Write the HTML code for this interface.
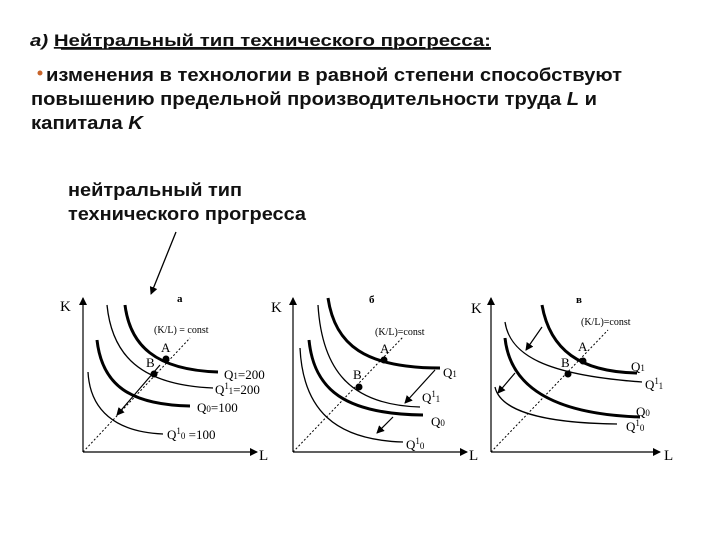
<!DOCTYPE html>
<html><head><meta charset="utf-8"><style>
html,body{margin:0;padding:0;background:#fff;}
svg{display:block;font-family:"Liberation Sans",sans-serif;}
.s{font-family:"Liberation Serif",serif;}
</style></head><body>
<svg width="720" height="540" viewBox="0 0 720 540" xmlns="http://www.w3.org/2000/svg">
<defs>
<marker id="ar" markerWidth="8" markerHeight="8" refX="7" refY="4" orient="auto" markerUnits="userSpaceOnUse"><path d="M0,0 L8,4 L0,8 Z" fill="#000"/></marker>
</defs>
<g font-weight="bold" font-size="17" fill="#111">
<text x="30" y="46" textLength="461" lengthAdjust="spacingAndGlyphs"><tspan font-style="italic">а)</tspan>  <tspan text-decoration="underline">Нейтральный тип технического прогресса:</tspan></text>
<line x1="61" y1="49" x2="491" y2="49" stroke="#111" stroke-width="1.5"/>
<circle cx="40" cy="73" r="2.5" fill="#c8642a"/>
<text x="46" y="81" font-size="18" textLength="576" lengthAdjust="spacingAndGlyphs">изменения в технологии в равной степени способствуют</text>
<text x="31" y="105" font-size="18" textLength="566" lengthAdjust="spacingAndGlyphs">повышению предельной производительности труда <tspan font-style="italic">L</tspan> и</text>
<text x="31" y="129" font-size="18" textLength="112" lengthAdjust="spacingAndGlyphs">капитала <tspan font-style="italic">K</tspan></text>
<text x="68" y="196" font-size="18" textLength="174" lengthAdjust="spacingAndGlyphs">нейтральный тип</text>
<text x="68" y="220" font-size="18" textLength="238" lengthAdjust="spacingAndGlyphs">технического прогресса</text>
</g>
<line x1="176" y1="232" x2="151" y2="294" stroke="#000" stroke-width="1.3" marker-end="url(#ar)"/>

<g fill="none" stroke="#000">
<!-- Panel a -->
<line x1="83" y1="452" x2="83" y2="298" stroke-width="1.2" marker-end="url(#ar)"/>
<line x1="83" y1="452" x2="257" y2="452" stroke-width="1.2" marker-end="url(#ar)"/>
<line x1="83" y1="452" x2="190" y2="338" stroke-dasharray="2,2"/>
<path d="M125,305 C130,345 155,370 218,372" stroke-width="3"/>
<path d="M107,305 C112,355 140,385 213,388" stroke-width="1.3"/>
<path d="M97,340 C102,385 130,405 190,406" stroke-width="3"/>
<path d="M88,372 C90,410 115,432 163,434" stroke-width="1.3"/>
<line x1="160" y1="365" x2="117" y2="415" stroke-width="1.2" marker-end="url(#ar)"/>
<!-- Panel b -->
<line x1="293" y1="452" x2="293" y2="298" stroke-width="1.2" marker-end="url(#ar)"/>
<line x1="293" y1="452" x2="467" y2="452" stroke-width="1.2" marker-end="url(#ar)"/>
<line x1="293" y1="452" x2="403" y2="337" stroke-dasharray="2,2"/>
<path d="M328,298 C335,345 365,368 440,368" stroke-width="3"/>
<path d="M318,305 C322,370 350,405 420,407" stroke-width="1.3"/>
<path d="M309,340 C314,390 345,414 423,415" stroke-width="3"/>
<path d="M300,348 C303,410 335,440 403,442" stroke-width="1.3"/>
<line x1="435" y1="370" x2="405" y2="403" stroke-width="1.2" marker-end="url(#ar)"/>
<line x1="393" y1="417" x2="377" y2="433" stroke-width="1.2" marker-end="url(#ar)"/>
<!-- Panel c -->
<line x1="491" y1="452" x2="491" y2="298" stroke-width="1.2" marker-end="url(#ar)"/>
<line x1="491" y1="452" x2="660" y2="452" stroke-width="1.2" marker-end="url(#ar)"/>
<line x1="491" y1="452" x2="608" y2="330" stroke-dasharray="2,2"/>
<path d="M542,305 C550,350 580,372 637,373" stroke-width="3"/>
<path d="M505,322 C510,355 545,375 642,382" stroke-width="1.3"/>
<path d="M505,338 C510,385 550,414 640,417" stroke-width="3"/>
<path d="M495,387 C500,410 540,423 617,424" stroke-width="1.3"/>
<line x1="542" y1="327" x2="526" y2="350" stroke-width="1.2" marker-end="url(#ar)"/>
<line x1="515" y1="373" x2="498" y2="393" stroke-width="1.2" marker-end="url(#ar)"/>
</g>
<g fill="#000">
<circle cx="166" cy="359" r="3.5"/><circle cx="154" cy="374" r="3.5"/>
<circle cx="384" cy="360" r="3.5"/><circle cx="359" cy="387" r="3.5"/>
<circle cx="583" cy="361" r="3.5"/><circle cx="568" cy="374" r="3.5"/>
</g>
<g class="s" font-size="13" fill="#000">
<text x="60" y="311" font-size="15">K</text>
<text x="259" y="460" font-size="15">L</text>
<text x="177" y="302" font-size="11" font-weight="bold">а</text>
<text x="154" y="333" font-size="10">(K/L) = const</text>
<text x="161" y="352">A</text>
<text x="146" y="367">B</text>
<text x="224" y="379">Q<tspan font-size="9">1</tspan>=200</text>
<text x="215" y="394">Q<tspan font-size="9" dy="-5">1</tspan><tspan font-size="9" dy="5">1</tspan>=200</text>
<text x="197" y="412">Q<tspan font-size="9">0</tspan>=100</text>
<text x="167" y="439">Q<tspan font-size="9" dy="-5">1</tspan><tspan font-size="9" dy="5">0</tspan> =100</text>

<text x="271" y="312" font-size="15">K</text>
<text x="469" y="460" font-size="15">L</text>
<text x="369" y="303" font-size="11" font-weight="bold">б</text>
<text x="375" y="335" font-size="10">(K/L)=const</text>
<text x="380" y="353">A</text>
<text x="353" y="379">B</text>
<text x="443" y="377">Q<tspan font-size="9">1</tspan></text>
<text x="422" y="402">Q<tspan font-size="9" dy="-5">1</tspan><tspan font-size="9" dy="5">1</tspan></text>
<text x="431" y="426">Q<tspan font-size="9">0</tspan></text>
<text x="406" y="449">Q<tspan font-size="9" dy="-5">1</tspan><tspan font-size="9" dy="5">0</tspan></text>

<text x="471" y="313" font-size="15">K</text>
<text x="664" y="460" font-size="15">L</text>
<text x="576" y="303" font-size="11" font-weight="bold">в</text>
<text x="581" y="325" font-size="10">(K/L)=const</text>
<text x="578" y="351">A</text>
<text x="561" y="367">B</text>
<text x="631" y="371">Q<tspan font-size="9">1</tspan></text>
<text x="645" y="389">Q<tspan font-size="9" dy="-5">1</tspan><tspan font-size="9" dy="5">1</tspan></text>
<text x="636" y="416">Q<tspan font-size="9">0</tspan></text>
<text x="626" y="431">Q<tspan font-size="9" dy="-5">1</tspan><tspan font-size="9" dy="5">0</tspan></text>
</g>
</svg>
</body></html>
